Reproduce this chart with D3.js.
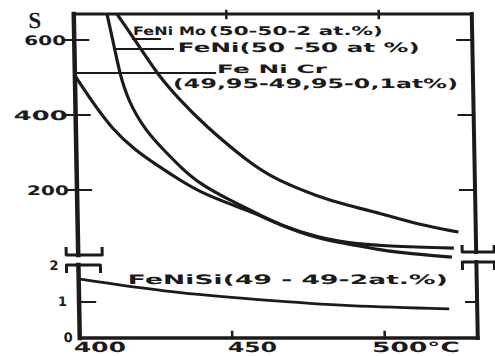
<!DOCTYPE html>
<html>
<head>
<meta charset="utf-8">
<title>S vs T</title>
<style>
	body { margin: 0; background: #fff; }
	text { font-family: "DejaVu Sans", sans-serif; font-weight: bold; fill: #1b1b1b; }
</style>
</head>
<body>
<div id="chart"></div>
<script src="https://cdn.jsdelivr.net/npm/d3@7"></script>
<script>
	// ticks
	var xTicks = [400, 450, 500];
	var xTickLabels = ["400", "450", "500°C"];
	var upperTicks = [200, 400, 600];
	var lowerTicks = [0, 1, 2];

	// curves (temperature in °C, S)
	var feNiMoT = [414.1, 422.1, 426.8, 434.2, 442.2, 456.7, 465.4, 479.4, 489.1, 498.9, 511.9, 524.8];
	var feNiMoS = [670, 573, 512, 440, 373, 272, 227, 181, 158, 139, 107, 88];

	var feNiT = [410.9, 413.3, 414.7, 417.2, 422.6, 429.6, 433.7, 440.2, 450.0, 458.0, 466.1, 479.1, 488.9, 498.7, 523.2];
	var feNiS = [669, 573, 512, 440, 360, 299, 264, 216, 173, 141, 107, 72, 59, 51, 45];

	var feNiCrT = [400, 405.1, 412.1, 419.2, 427.3, 433.7, 440.2, 449.9, 458.0, 466.1, 479.1, 488.9, 498.7, 510.1, 522.5];
	var feNiCrS = [505, 440, 360, 307, 261, 227, 195, 163, 139, 107, 69, 56, 40, 29, 21];

	var feNiSiT = [400, 428.9, 452.6, 485.3, 521.3];
	var feNiSiS = [1.64, 1.28, 1.11, 0.89, 0.81];

	// curve labels (position in data units)
	var labelText = ["FeNi Mo", "(50-50-2 at.%)", "FeNi(50 -50 at %)", "Fe Ni Cr", "(49,95-49,95-0,1at%)"];
	var labelT = [419.3, 444.2, 433.9, 446.6, 432.1];
	var labelS = [613, 613, 568, 512, 472];
	var labelLen = [73, 174, 242, 110, 285];
	var labelSize = [11.5, 12, 13, 11.5, 13];

	// leader lines from the curves to the labels
	var leaderT = [[419.3, 428.1], [413.5, 432.3], [400, 446.0]];
	var leaderS = [603, 576, 512];

	var width = 495, height = 356;
	var ink = "#1b1b1b";

	var svg = d3.select("#chart").append("svg")
		.attr("width", width).attr("height", height);

	// the scan is a little sheared, so the whole drawing is too
	var g = svg.append("g").attr("transform", "skewX(1.06)");

	var x = d3.scaleLinear().domain([400, 500]).range([73.5, 378.5]);
	var yUp = d3.scaleLinear().domain([0, 600]).range([265, 40]);
	var yLo = d3.scaleLinear().domain([0, 2]).range([338, 266]);

	var xMax = 530.5, sMax = 669.3;
	var x0 = x(400), x1 = x(xMax), yTopPx = yUp(sMax), yBotPx = yLo(0);

	g.append("clipPath").attr("id", "upclip")
		.append("rect")
		.attr("x", x0).attr("y", yTopPx)
		.attr("width", x1 - x0).attr("height", yUp(0) - yTopPx);

	// frame
	function seg(ax, ay, bx, by, w) {
		g.append("line")
			.attr("x1", ax).attr("y1", ay).attr("x2", bx).attr("y2", by)
			.attr("stroke", ink).attr("stroke-width", w)
			.attr("stroke-linecap", "square");
	}
	seg(x0, yTopPx, x1, yTopPx, 2.8);
	seg(x0, yBotPx, x1, yBotPx, 3.5);
	seg(x0, yTopPx, x0, 255, 4.5);
	seg(x0, 265, x0, yBotPx, 4.5);
	seg(x1, yTopPx, x1, 252, 4);
	seg(x1, 262, x1, yBotPx, 4);

	// axis breaks
	function brk(path) {
		g.append("path").attr("d", path)
			.attr("fill", "none").attr("stroke", ink).attr("stroke-width", 3)
			.attr("stroke-linejoin", "round");
	}
	brk("M" + (x0 - 12) + ",247V255H" + (x0 + 24) + "V247");
	brk("M" + (x0 - 12) + ",273V265H" + (x0 + 22) + "V273");
	brk("M" + (x1 - 14) + ",245V252H" + (x1 + 18) + "V245");
	brk("M" + (x1 - 14) + ",270V262H" + (x1 + 18) + "V270");

	// ticks
	upperTicks.forEach(function (v) {
		seg(x0 - 9, yUp(v), x0 + 14, yUp(v), 2.2);
		seg(x1 - 15, yUp(v), x1, yUp(v), 2.2);
	});
	seg(x0, yLo(1), x0 + 16, yLo(1), 2.2);
	seg(x1 - 11, yLo(1), x1, yLo(1), 2.2);
	xTicks.slice(1).forEach(function (t) {
		seg(x(t), yBotPx, x(t), yBotPx - 6, 2.5);
		seg(x(t), yTopPx - 3, x(t), yTopPx + 4, 2.5);
	});

	// tick labels
	upperTicks.forEach(function (v) {
		g.append("text")
			.attr("x", x0 - 8).attr("y", yUp(v) + 5)
			.attr("text-anchor", "end")
			.attr("font-size", 13)
			.attr("textLength", v == 400 ? 54 : 42)
			.attr("lengthAdjust", "spacingAndGlyphs")
			.text(v);
	});
	var lowerDx = [-7, -12, -20];
	lowerTicks.forEach(function (v, i) {
		g.append("text")
			.attr("x", x0 + lowerDx[i]).attr("y", yLo(v) + 4.5)
			.attr("text-anchor", "end")
			.attr("font-size", 13)
			.text(v);
	});
	g.append("text")
		.attr("x", x0 - 39).attr("y", 28)
		.attr("text-anchor", "middle")
		.attr("font-size", 23)
		.style("font-family", "'Liberation Serif', serif")
		.text("S");

	var xDx = [20, 20, -13];
	var xLen = [52, 49, 88];
	xTicks.forEach(function (t, i) {
		g.append("text")
			.attr("x", x(t) + xDx[i]).attr("y", 352)
			.attr("text-anchor", i < 2 ? "middle" : "start")
			.attr("font-size", 14)
			.attr("textLength", xLen[i])
			.attr("lengthAdjust", "spacingAndGlyphs")
			.text(xTickLabels[i]);
	});

	// curves (basis smooths the hand-drawn wobble)
	var upLine = d3.line()
		.x(function (d) { return x(d[0]); })
		.y(function (d) { return yUp(d[1]); })
		.curve(d3.curveBasis);
	var loLine = d3.line()
		.x(function (d) { return x(d[0]); })
		.y(function (d) { return yLo(d[1]); })
		.curve(d3.curveBasis);

	[[feNiMoT, feNiMoS], [feNiT, feNiS], [feNiCrT, feNiCrS]].forEach(function (s) {
		g.append("path")
			.datum(d3.zip(s[0], s[1]))
			.attr("clip-path", "url(#upclip)")
			.attr("fill", "none").attr("stroke", ink).attr("stroke-width", 3.2)
			.attr("d", upLine);
	});
	g.append("path")
		.datum(d3.zip(feNiSiT, feNiSiS))
		.attr("fill", "none").attr("stroke", ink).attr("stroke-width", 2.8)
		.attr("d", loLine);

	// leaders
	leaderT.forEach(function (t, i) {
		seg(x(t[0]), yUp(leaderS[i]), x(t[1]), yUp(leaderS[i]), 2);
	});

	// curve labels
	labelText.forEach(function (s, i) {
		g.append("text")
			.attr("x", x(labelT[i])).attr("y", yUp(labelS[i]))
			.attr("font-size", labelSize[i])
			.attr("textLength", labelLen[i])
			.attr("lengthAdjust", "spacingAndGlyphs")
			.text(s);
	});
	g.append("text")
		.attr("x", x(416.1)).attr("y", yLo(1.5))
		.attr("font-size", 13)
		.attr("textLength", 320)
		.attr("lengthAdjust", "spacingAndGlyphs")
		.text("FeNiSi(49 - 49-2at.%)");
</script>
</body>
</html>
